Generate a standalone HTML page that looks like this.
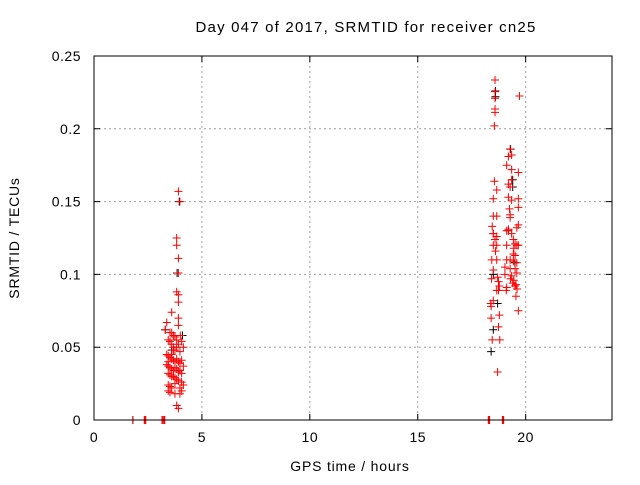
<!DOCTYPE html>
<html><head><meta charset="utf-8">
<style>
html,body{margin:0;padding:0;background:#fff;}
svg text{font-family:"Liberation Sans",sans-serif;font-size:14px;fill:#000;}
</style></head>
<body>
<svg id="chart" width="640" height="480" xmlns="http://www.w3.org/2000/svg">
<text x="366" y="32" text-anchor="middle" style="font-size:15px;letter-spacing:1.2px">Day 047 of 2017, SRMTID for receiver cn25</text>
<text x="350" y="471" text-anchor="middle" style="letter-spacing:0.8px">GPS time / hours</text>
<text transform="translate(19,238) rotate(-90)" text-anchor="middle" style="letter-spacing:0.8px">SRMTID / TECUs</text>
<g id="grid"></g>
<g id="ticks"></g>
<g id="marks"></g>
<rect x="94" y="56" width="518" height="364" fill="none" stroke="#000" stroke-width="1"/>
</svg>
<script>
const xTicks=[0,5,10,15,20];
const yTicks=[0,0.05,0.1,0.15,0.2,0.25];
const yTickLabels=["0","0.05","0.1","0.15","0.2","0.25"];
// red series: hours
const redH=[1.8,2.33,2.36,2.4,3.15,3.2,3.25,3.28,18.27,18.3,18.33,18.92,18.95,18.98,
3.91,3.98,3.83,3.83,3.91,3.91,3.83,3.91,3.91,3.6,3.91,3.37,3.91,3.3,4.0,3.6,3.68,3.75,3.83,
3.44,3.52,3.6,3.68,3.75,3.83,3.91,3.98,4.06,4.14,3.37,3.44,3.52,3.6,3.68,3.75,3.83,3.91,3.98,4.06,
3.37,3.44,3.52,3.6,3.68,3.75,3.83,3.91,3.98,4.06,4.14,3.44,3.52,3.6,3.68,3.75,3.83,3.91,4.06,4.14,
3.44,3.52,3.6,3.75,3.98,4.06,3.44,3.52,3.75,3.98,3.83,3.91,3.6,3.68,3.52,3.44,
18.58,18.58,18.58,19.71,18.58,18.58,18.55,19.28,19.2,19.35,19.12,19.35,19.66,19.35,18.55,19.2,18.66,19.28,18.5,19.2,19.35,19.66,
19.66,19.28,18.5,18.66,19.28,19.66,18.45,19.2,19.12,19.35,19.59,18.5,18.66,18.58,19.43,19.59,18.5,18.66,19.12,19.51,19.66,
19.43,19.51,18.43,18.66,19.12,19.28,19.43,19.59,18.5,19.04,19.28,19.51,19.59,19.04,19.35,18.42,18.74,19.12,18.78,18.66,19.1,18.74,18.5,18.38,19.66,18.4,18.78,18.4,18.74,
18.5,18.6,18.7,19.45,19.55,19.6,19.3,19.4,19.5,18.45,18.8,18.7,19.25,19.45,19.55];
const redV=[0,0,0,0,0,0,0,0,0,0,0,0,0,0,
0.157,0.150,0.125,0.120,0.111,0.101,0.088,0.086,0.081,0.074,0.070,0.067,0.065,0.062,0.058,0.060,0.058,0.057,0.055,
0.055,0.054,0.052,0.050,0.048,0.050,0.052,0.047,0.054,0.050,0.045,0.044,0.043,0.042,0.041,0.040,0.042,0.040,0.039,0.041,
0.038,0.037,0.036,0.035,0.034,0.036,0.035,0.033,0.034,0.032,0.037,0.032,0.031,0.030,0.030,0.029,0.028,0.027,0.026,0.024,
0.024,0.023,0.022,0.025,0.022,0.020,0.020,0.019,0.018,0.018,0.010,0.008,0.045,0.048,0.060,0.040,
0.2335,0.2255,0.221,0.2225,0.2136,0.2113,0.202,0.186,0.181,0.182,0.175,0.172,0.170,0.165,0.164,0.162,0.158,0.160,0.152,0.153,0.151,0.152,
0.146,0.141,0.140,0.140,0.139,0.134,0.133,0.131,0.130,0.128,0.132,0.128,0.126,0.124,0.124,0.120,0.120,0.120,0.120,0.121,0.120,
0.114,0.113,0.110,0.110,0.110,0.110,0.109,0.108,0.103,0.105,0.104,0.104,0.101,0.100,0.099,0.097,0.095,0.091,0.092,0.089,0.089,0.089,0.082,0.080,0.075,0.078,0.072,0.070,0.064,
0.128,0.116,0.098,0.096,0.093,0.090,0.097,0.094,0.092,0.055,0.055,0.033,0.145,0.118,0.085];
// black series
const blackH=[1.8,3.95,3.3,4.1,3.6,3.85,18.4,18.5,18.6,18.6,19.3,19.4,18.5,19.5,19.2,18.7,19.4];
const blackV=[0,0.150,0.062,0.058,0.048,0.101,0.047,0.062,0.226,0.222,0.186,0.165,0.100,0.108,0.130,0.080,0.160];
const X0=94,X1=612,Y0=420,Y1=56;
const xs=h=>X0+h/24*(X1-X0);
const ys=v=>Y0-v/0.25*(Y0-Y1);
const NS="http://www.w3.org/2000/svg";
function mk(tag,parent,attrs){const e=document.createElementNS(NS,tag);for(const k in attrs)e.setAttribute(k,attrs[k]);parent.appendChild(e);return e;}
const grid=document.getElementById('grid'),ticks=document.getElementById('ticks'),marks=document.getElementById('marks');
xTicks.forEach(t=>{const x=xs(t);
 if(t>0){const g=mk('line',grid,{x1:x,x2:x,y1:Y1,y2:Y0,stroke:'#a0a0a0','stroke-dasharray':'2,3'});
 
 }
 const tk=mk('path',ticks,{d:`M${x},${Y0}v-6M${x},${Y1}v6`,stroke:'#000'});
 
 
 const l=mk('text',ticks,{x:x,y:Y0+22,'text-anchor':'middle',style:'letter-spacing:0.5px'});l.textContent=t;
 
 
});
yTicks.forEach((t,i)=>{const y=ys(t);
 if(t>0&&t<0.25){const g=mk('line',grid,{x1:X0,x2:X1,y1:y,y2:y,stroke:'#a0a0a0','stroke-dasharray':'2,3'});
 
 }
 const tk=mk('path',ticks,{d:`M${X0},${y}h6M${X1},${y}h-6`,stroke:'#000'});
 
 
 const l=mk('text',ticks,{x:X0-13,y:y+5,'text-anchor':'end',style:'letter-spacing:0.5px'});l.textContent=yTickLabels[i];
 
 
});
function plus(h,v,col,name){const x=xs(h),y=ys(v);
 const p=mk('path',marks,{d:`M${x-4},${y}h8M${x},${y-4}v8`,stroke:col,'stroke-width':1});
 
 }
blackH.forEach((h,i)=>plus(h,blackV[i],'#000','black-point'));
redH.forEach((h,i)=>plus(h,redV[i],'#ff0000','red-point'));
</script>
</body></html>
